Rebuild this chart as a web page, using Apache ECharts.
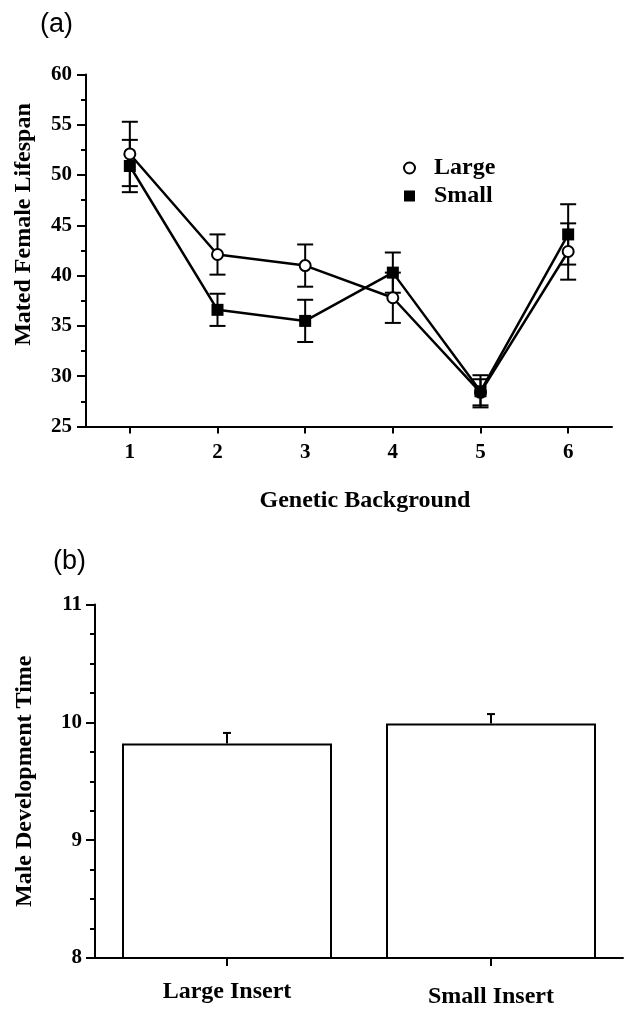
<!DOCTYPE html>
<html>
<head>
<meta charset="utf-8">
<script src="https://cdn.jsdelivr.net/npm/echarts@6/dist/echarts.min.js"></script>
<style>
  html, body { margin: 0; padding: 0; background: #fff; }
  #main { width: 629px; height: 1009px; }
</style>
</head>
<body>
<div id="main"></div>
<script>
(function () {
    "use strict";

    // (a) mated female lifespan by genetic background
    var backgrounds = ['1', '2', '3', '4', '5', '6'];
    var largeMean = [52.1, 42.1, 41.0, 37.8, 28.4, 42.4];
    var largeErr = [3.2, 2.0, 2.1, 2.5, 1.3, 2.8];
    var smallMean = [50.9, 36.6, 35.5, 40.3, 28.5, 44.1];
    var smallErr = [2.6, 1.6, 2.1, 2.0, 1.6, 3.0];

    // (b) male development time
    var inserts = ['Large Insert', 'Small Insert'];
    var devMean = [9.82, 9.99];
    var devErr = [0.09, 0.08];

    var serif = "'Liberation Serif', 'Times New Roman', serif";
    var black = '#000';

    function errRows(mean, err) {
        return mean.map(function (m, i) { return [i, m - err[i], m + err[i]]; });
    }

    // whiskers drawn on the axis scale; upperOnly for the bar panel
    function errorBar(halfCap, upperOnly) {
        return function (params, api) {
            var x = api.value(0);
            var lo = api.coord([x, api.value(1)]);
            var hi = api.coord([x, api.value(2)]);
            var st = { stroke: black, lineWidth: 2 };
            var kids = [
                { type: 'line', shape: { x1: lo[0], y1: lo[1], x2: hi[0], y2: hi[1] }, style: st },
                { type: 'line', shape: { x1: hi[0] - halfCap, y1: hi[1], x2: hi[0] + halfCap, y2: hi[1] }, style: st }
            ];
            if (!upperOnly) {
                kids.push({ type: 'line', shape: { x1: lo[0] - halfCap, y1: lo[1], x2: lo[0] + halfCap, y2: lo[1] }, style: st });
            }
            return { type: 'group', children: kids };
        };
    }

    var axisLine = { show: true, lineStyle: { color: black, width: 2 } };
    var tickStyle = { color: black, width: 2 };
    var labelStyle = { color: black, fontFamily: serif, fontWeight: 'bold', fontSize: 21 };
    var nameStyle = { color: black, fontFamily: serif, fontWeight: 'bold', fontSize: 24 };

    var chart = echarts.init(document.getElementById('main'));

    var option = {
        backgroundColor: '#fff',
        animation: false,
        graphic: [
            { type: 'text', left: 40, top: 11, style: { text: '(a)', font: '27px "Liberation Sans", Arial, sans-serif', fill: black } },
            { type: 'text', left: 53, top: 548, style: { text: '(b)', font: '27px "Liberation Sans", Arial, sans-serif', fill: black } }
        ],
        legend: {
            orient: 'vertical',
            left: 398,
            top: 149,
            itemWidth: 11,
            itemHeight: 11,
            itemGap: 0,
            textStyle: {
                color: black, fontFamily: serif, fontWeight: 'bold', fontSize: 24,
                lineHeight: 28, padding: [0, 0, 0, 14]
            },
            data: [
                { name: 'Large', icon: 'circle', itemStyle: { color: '#fff', borderColor: black, borderWidth: 2 } },
                { name: 'Small', icon: 'rect', itemStyle: { color: black, borderWidth: 0 } }
            ]
        },
        grid: [
            { left: 86, right: 17, top: 74.5, height: 352 },
            { left: 95, right: 6, top: 604.5, height: 354 }
        ],
        xAxis: [
            {
                type: 'category',
                gridIndex: 0,
                data: backgrounds,
                boundaryGap: true,
                axisLine: axisLine,
                axisTick: { show: true, alignWithLabel: true, length: 7, lineStyle: tickStyle },
                axisLabel: Object.assign({ margin: 16 }, labelStyle),
                splitLine: { show: false },
                name: 'Genetic Background',
                nameLocation: 'middle',
                nameGap: 62,
                nameTextStyle: Object.assign({ padding: [0, 0, 0, 32] }, nameStyle)
            },
            {
                type: 'category',
                gridIndex: 1,
                data: [inserts[0], { value: inserts[1], textStyle: { padding: [5, 0, 0, 0] } }],
                boundaryGap: true,
                axisLine: axisLine,
                axisTick: { show: true, alignWithLabel: true, length: 8, lineStyle: tickStyle },
                axisLabel: Object.assign({}, labelStyle, { fontSize: 24, margin: 22 }),
                splitLine: { show: false }
            }
        ],
        yAxis: [
            {
                type: 'value',
                gridIndex: 0,
                min: 25,
                max: 60,
                interval: 5,
                axisLine: axisLine,
                axisTick: { show: true, length: 9, lineStyle: tickStyle },
                minorTick: { show: true, splitNumber: 2, length: 5, lineStyle: tickStyle },
                axisLabel: Object.assign({ margin: 14 }, labelStyle),
                splitLine: { show: false },
                name: 'Mated Female Lifespan',
                nameLocation: 'middle',
                nameGap: 50,
                nameTextStyle: Object.assign({ padding: [0, 0, 0, 52] }, nameStyle)
            },
            {
                type: 'value',
                gridIndex: 1,
                min: 8,
                max: 11,
                interval: 1,
                axisLine: axisLine,
                axisTick: { show: true, length: 9, lineStyle: tickStyle },
                minorTick: { show: true, splitNumber: 4, length: 5, lineStyle: tickStyle },
                axisLabel: Object.assign({ margin: 13 }, labelStyle),
                splitLine: { show: false },
                name: 'Male Development Time',
                nameLocation: 'middle',
                nameGap: 58,
                nameTextStyle: nameStyle
            }
        ],
        series: [
            {
                type: 'custom',
                xAxisIndex: 0, yAxisIndex: 0,
                renderItem: errorBar(8, false),
                data: errRows(largeMean, largeErr),
                z: 1, silent: true
            },
            {
                type: 'custom',
                xAxisIndex: 0, yAxisIndex: 0,
                renderItem: errorBar(8, false),
                data: errRows(smallMean, smallErr),
                z: 1, silent: true
            },
            {
                name: 'Large',
                type: 'line',
                xAxisIndex: 0, yAxisIndex: 0,
                data: largeMean,
                symbol: 'emptyCircle',
                symbolSize: 11,
                lineStyle: { color: black, width: 2.5 },
                itemStyle: { color: black, borderColor: black, borderWidth: 2 },
                z: 2
            },
            {
                name: 'Small',
                type: 'line',
                xAxisIndex: 0, yAxisIndex: 0,
                data: smallMean,
                symbol: 'rect',
                symbolSize: 12,
                lineStyle: { color: black, width: 2.5 },
                itemStyle: { color: black },
                z: 3
            },
            {
                type: 'bar',
                xAxisIndex: 1, yAxisIndex: 1,
                data: devMean,
                barWidth: 210,
                itemStyle: { color: '#fff', borderColor: black, borderWidth: 2 },
                z: 2
            },
            {
                type: 'custom',
                xAxisIndex: 1, yAxisIndex: 1,
                renderItem: errorBar(4, true),
                data: devMean.map(function (m, i) { return [i, m, m + devErr[i]]; }),
                z: 1, silent: true
            }
        ]
    };

    chart.setOption(option);
})();
</script>
</body>
</html>
